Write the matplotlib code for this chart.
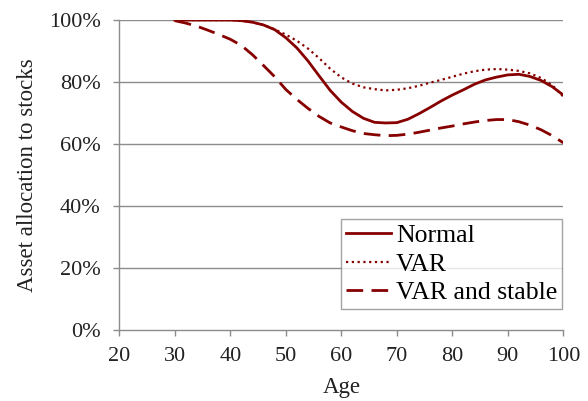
import matplotlib
matplotlib.use("Agg")
import matplotlib.pyplot as plt
from matplotlib.ticker import FuncFormatter

ages = [30, 32, 34, 36, 38, 40, 42, 44, 46, 48, 50, 52, 54, 56, 58, 60, 62, 64, 66, 68,
        70, 72, 74, 76, 78, 80, 82, 84, 86, 88, 90, 92, 94, 96, 98, 100]
normal = [100, 100, 100, 100, 100, 100, 99.8, 99.3, 98.4, 96.9, 94.3, 91.0, 86.8, 82.0, 77.3,
          73.5, 70.5, 68.3, 67.0, 66.8, 66.9, 68.0, 69.8, 71.8, 73.9, 75.8, 77.5, 79.3, 80.7,
          81.6, 82.3, 82.5, 81.8, 80.5, 78.5, 75.8]
var = [100, 100, 100, 100, 100, 100, 99.8, 99.3, 98.4, 97.0, 95.3, 93.3, 90.8, 87.7, 84.3,
       81.5, 79.5, 78.3, 77.7, 77.3, 77.5, 78.0, 78.8, 79.8, 80.7, 81.7, 82.7, 83.5, 84.0,
       84.2, 84.0, 83.6, 82.8, 81.3, 79.0, 75.3]
var_stable = [99.8, 99.0, 98.0, 96.7, 95.3, 93.8, 91.8, 88.8, 85.3, 81.7, 77.6, 74.4, 71.5,
              68.9, 66.8, 65.5, 64.3, 63.4, 63.0, 62.7, 62.8, 63.2, 63.8, 64.5, 65.2, 65.8,
              66.5, 67.1, 67.6, 67.9, 67.9, 67.2, 66.1, 64.6, 62.7, 60.4]
labels = ["Normal", "VAR", "VAR and stable"]
xticks = [20, 30, 40, 50, 60, 70, 80, 90, 100]
yticks = [0, 20, 40, 60, 80, 100]

plt.rcParams['font.family'] = ['Liberation Serif', 'DejaVu Serif']
color = '#870000'
gray = '#8c8c8c'
txt = '#222222'

fig = plt.figure(figsize=(5.88, 4.01), dpi=100)
ax = fig.add_axes([0.2029, 0.177, 0.7551, 0.773])

ax.plot(ages, normal, color=color, lw=2.0, ls='-', label=labels[0])
ax.plot(ages, var, color=color, lw=1.6, ls=(0, (1, 1.6)), label=labels[1])
ax.plot(ages, var_stable, color=color, lw=2.0, ls=(0, (6, 3)), label=labels[2])

ax.set_xlim(20, 100)
ax.set_ylim(0, 100)
ax.set_xticks(xticks)
ax.set_yticks(yticks)
ax.yaxis.set_major_formatter(FuncFormatter(lambda v, p: f"{int(v)}%"))
for y in yticks[1:]:
    ax.axhline(y, color=gray, lw=1.0, zorder=0.5)

for s in ['top', 'right']:
    ax.spines[s].set_visible(False)
for s in ['left', 'bottom']:
    ax.spines[s].set_color(gray)
    ax.spines[s].set_linewidth(1.0)
ax.tick_params(axis='both', colors=gray, length=4.5, width=1.0, labelsize=16,
               labelcolor=txt)
ax.tick_params(axis='y', pad=9)
ax.tick_params(axis='x', pad=8)

ax.set_xlabel("Age", fontsize=16.5, color=txt, labelpad=8)
ax.set_ylabel("Asset allocation to stocks", fontsize=16.5, color=txt, labelpad=8)

leg = ax.legend(loc='upper left', bbox_to_anchor=(0.499, 0.357), borderaxespad=0,
                fontsize=18.5, frameon=True, fancybox=False, edgecolor=gray,
                handlelength=1.75, handletextpad=0.2, labelspacing=0.2,
                borderpad=0.2)
leg.get_frame().set_linewidth(1.0)

fig.savefig("out.png", dpi=100)
